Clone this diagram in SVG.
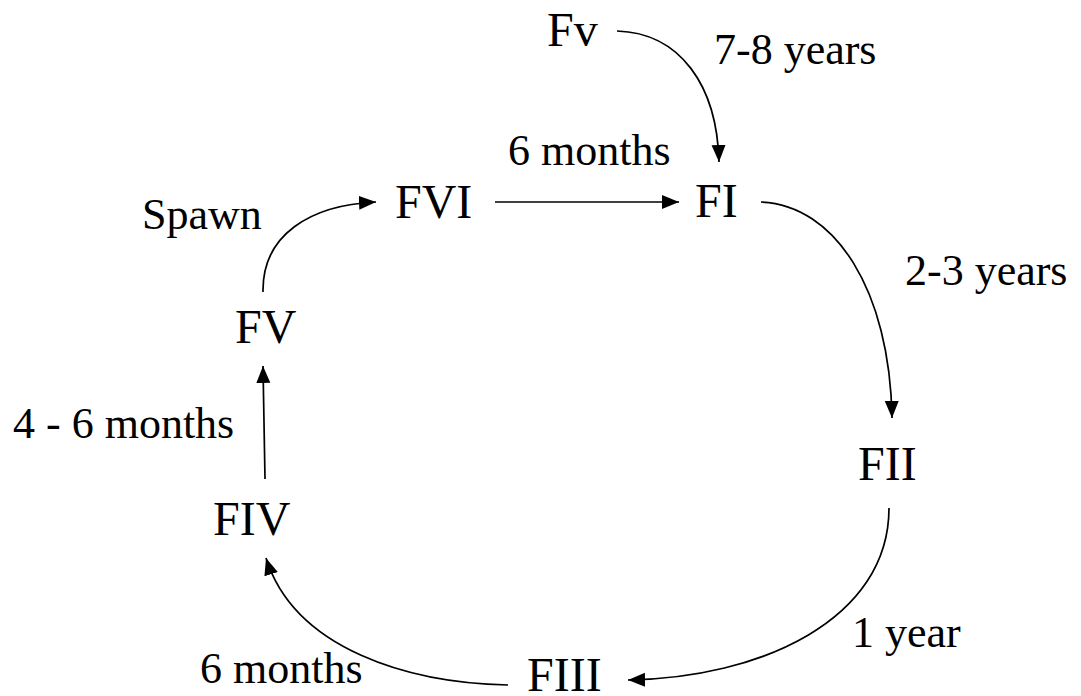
<svg xmlns="http://www.w3.org/2000/svg" width="1081" height="696" viewBox="0 0 1081 696">
<style>
text{font-family:'Liberation Serif',Tinos,'Times New Roman',Times,'Nimbus Roman','DejaVu Serif',serif;fill:#000}
.node{font-size:48px}
.lbl{font-size:44px}
.edge{fill:none;stroke:#000;stroke-width:1.7;marker-end:url(#ah)}
</style>
<defs>
<marker id="ah" markerUnits="userSpaceOnUse" markerWidth="18" markerHeight="15" refX="17" refY="7.5" orient="auto">
<path d="M0,0.5 L17,7.5 L0,14.5 z" fill="#000"/>
</marker>
</defs>
<rect width="1081" height="696" fill="#fff"/>
<g id="connectors">
<path class="edge" d="M617,31 C680,33 717,85 719,162"/>
<path class="edge" d="M263,292 C262,235 310,205 376,202"/>
<path class="edge" d="M495,202 L679,202"/>
<path class="edge" d="M761,202 C835,205 890,290 892,418"/>
<path class="edge" d="M889,508 C889,620 760,678 628,680"/>
<path class="edge" d="M508,685 C410,683 295,650 266,558"/>
<path class="edge" d="M265,479 L263,366"/>
</g>
<g id="labels">
<text class="lbl" x="714" y="64">7-8 years</text>
<text class="lbl" x="508" y="165">6 months</text>
<text class="lbl" x="142" y="229">Spawn</text>
<text class="lbl" x="905" y="285">2-3 years</text>
<text class="lbl" x="13" y="438">4 - 6 months</text>
<text class="lbl" x="852" y="647">1 year</text>
<text class="lbl" x="200" y="683">6 months</text>
</g>
<g id="node-Fv"><text class="node" x="547" y="46">Fv</text></g>
<g id="node-FVI"><text class="node" x="395" y="218">FVI</text></g>
<g id="node-FI"><text class="node" x="695" y="217">FI</text></g>
<g id="node-FV"><text class="node" x="235" y="343">FV</text></g>
<g id="node-FII"><text class="node" x="858" y="480">FII</text></g>
<g id="node-FIV"><text class="node" x="213" y="535">FIV</text></g>
<g id="node-FIII"><text class="node" x="527" y="691">FIII</text></g>
</svg>
